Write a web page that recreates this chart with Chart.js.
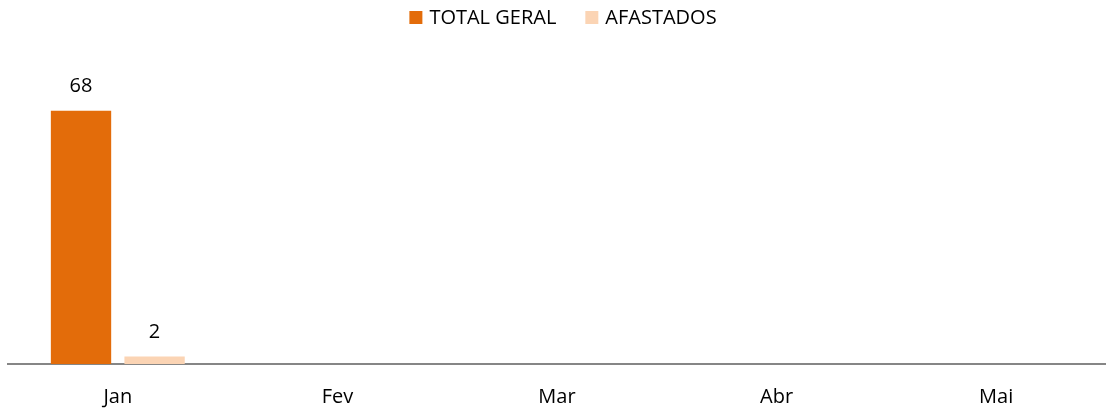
<!DOCTYPE html>
<html>
  <head>
    <script src="https://cdn.jsdelivr.net/npm/chart.js"></script>
    <style>
      body { margin: 0; background: #fff; }
      #wrap { width: 1106px; height: 408px; }
    </style>
  </head>
  <body>
    <div id="wrap"><canvas id="afastados-chart"></canvas></div>
    <script>
      var months = ['Jan', 'Fev', 'Mar', 'Abr', 'Mai'];
      var totalGeral = [68, null, null, null, null];
      var afastados = [2, null, null, null, null];

      var FONT = '"Open Sans", sans-serif';
      var SIZE = 20;

      // draws the value above each bar
      var valueLabels = {
        id: 'valueLabels',
        afterDatasetsDraw: function(chart) {
          var ctx = chart.ctx;
          ctx.save();
          ctx.font = SIZE + 'px ' + FONT;
          ctx.fillStyle = '#000';
          ctx.textAlign = 'center';
          ctx.textBaseline = 'middle';
          chart.data.datasets.forEach(function(ds, i) {
            chart.getDatasetMeta(i).data.forEach(function(bar, j) {
              if (ds.data[j] == null) return;
              ctx.fillText(ds.data[j], bar.x, bar.y - 24);
            });
          });
          ctx.restore();
        }
      };

      // simple legend at the top, drawn from the datasets
      var topLegend = {
        id: 'topLegend',
        afterDraw: function(chart) {
          var ctx = chart.ctx;
          var box = 13, gap = 7, spacing = 29, y = 18;
          ctx.save();
          ctx.font = SIZE + 'px ' + FONT;
          ctx.textBaseline = 'middle';
          var items = chart.data.datasets.map(function(ds) {
            return { text: ds.label, color: ds.backgroundColor, w: ctx.measureText(ds.label).width };
          });
          var total = 0;
          items.forEach(function(it, i) {
            total += box + gap + it.w + (i ? spacing : 0);
          });
          var x = chart.width / 2 + 10 - total / 2;
          items.forEach(function(it) {
            ctx.fillStyle = it.color;
            ctx.fillRect(x, y - 7, box, box);
            ctx.fillStyle = '#000';
            ctx.fillText(it.text, x + box + gap, y);
            x += box + gap + it.w + spacing;
          });
          ctx.restore();
        }
      };

      var ctx = document.getElementById('afastados-chart').getContext('2d');
      var chart = new Chart(ctx, {
        type: 'bar',
        data: {
          labels: months,
          datasets: [{
            label: 'TOTAL GERAL',
            data: totalGeral,
            backgroundColor: '#E36C0A',
            barPercentage: 0.82,
            categoryPercentage: 0.67
          }, {
            label: 'AFASTADOS',
            data: afastados,
            backgroundColor: '#FBD4B4',
            barPercentage: 0.82,
            categoryPercentage: 0.67
          }]
        },
        options: {
          responsive: true,
          maintainAspectRatio: false,
          animation: false,
          layout: { padding: { left: 8, right: 0, top: 66, bottom: 0 } },
          plugins: {
            tooltip: { enabled: false },
            legend: { display: false }
          },
          scales: {
            x: {
              grid: { display: false, drawTicks: false },
              border: { display: true, color: '#868686', width: 2 },
              ticks: {
                color: '#000',
                padding: 21,
                font: { family: FONT, size: SIZE }
              },
              afterFit: function(scale) { scale.height = 44; }
            },
            y: {
              display: false,
              min: 0,
              max: 80
            }
          }
        },
        plugins: [valueLabels, topLegend]
      });
    </script>
  </body>
</html>
